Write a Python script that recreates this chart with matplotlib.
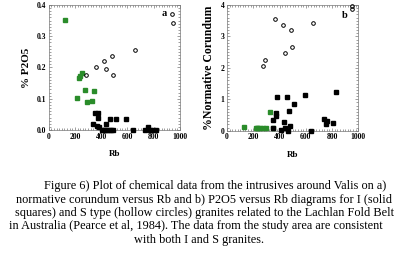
import matplotlib
matplotlib.use("Agg")
import matplotlib.pyplot as plt
from matplotlib.ticker import AutoMinorLocator, MultipleLocator

plt.rcParams['font.family'] = ['Liberation Serif', 'DejaVu Serif']

green = "#2a8c2a"

# panel a: P2O5 vs Rb
a_green_rb = [127, 218, 228, 235, 251, 276, 294, 330, 347]
a_green_p = [0.352, 0.103, 0.167, 0.172, 0.181, 0.129, 0.091, 0.092, 0.124]
a_black_rb = [353, 378, 378, 340, 434, 467, 510, 586, 370, 383,
              403, 418, 432, 446, 460, 474, 488, 640, 733, 759, 775, 797, 817]
a_black_p = [0.055, 0.055, 0.04, 0.019, 0.019, 0.035, 0.035, 0.036, 0.013, 0.009,
             0.0, 0.0, 0.0, 0.0, 0.0, 0.0, 0.0, 0.0, 0.0, 0.011, 0.0, 0.0, 0.0]
a_open_rb = [282, 360, 421, 434, 480, 490, 655, 942, 949]
a_open_p = [0.176, 0.203, 0.222, 0.194, 0.238, 0.176, 0.255, 0.371, 0.343]

# panel b: normative corundum vs Rb
b_green_rb = [127, 218, 228, 235, 251, 276, 294, 330, 347]
b_green_c = [0.12, 0.1, 0.1, 0.1, 0.1, 0.1, 0.1, 0.58, 0.1]
b_black_rb = [383, 455, 594, 510, 375, 373, 470, 353, 434, 480, 348, 409, 442, 465,
              637, 830, 739, 764, 754, 810]
b_black_c = [1.06, 1.06, 1.14, 0.85, 0.57, 0.48, 0.63, 0.35, 0.29, 0.16, 0.10, 0.02, 0.08, 0.0,
             0.0, 1.22, 0.37, 0.32, 0.21, 0.24]
b_open_rb = [366, 429, 485, 657, 442, 497, 289, 276, 950, 953]
b_open_c = [3.55, 3.36, 3.20, 3.42, 2.48, 2.65, 2.25, 2.06, 3.88, 3.97]

caption = [
    "Figure 6) Plot of chemical data from the intrusives around Valis on a)",
    "normative corundum versus Rb and b) P2O5 versus Rb diagrams for I (solid",
    "squares) and S type (hollow circles) granites related to the Lachlan Fold Belt",
    "in Australia (Pearce et al, 1984). The data from the study area are consistent",
    "with both I and S granites.",
]

W, H = 406, 257
fig = plt.figure(figsize=(W / 100, H / 100), dpi=100)


def px_axes(l, t, r, b):
    return fig.add_axes([l / W, 1 - b / H, (r - l) / W, (b - t) / H])


def style(ax, ymax, ymaj, fmt):
    ax.set_xlim(0, 1000)
    ax.set_ylim(0, ymax)
    ax.xaxis.set_major_locator(MultipleLocator(200))
    ax.yaxis.set_major_locator(MultipleLocator(ymaj))
    ax.xaxis.set_minor_locator(AutoMinorLocator(10))
    ax.yaxis.set_minor_locator(AutoMinorLocator(10))
    ax.tick_params(which='both', direction='in', top=True, right=True,
                   width=0.4, color='#555555', labelsize=5.5, pad=2)
    ax.tick_params(which='major', length=2.5)
    ax.tick_params(which='minor', length=1.2)
    for lab in ax.get_xticklabels() + ax.get_yticklabels():
        lab.set_fontweight('bold')
    ax.yaxis.set_major_formatter(plt.FormatStrFormatter(fmt))
    for s in ax.spines.values():
        s.set_linewidth(0.5)
        s.set_color('#777777')
    ax.set_xlabel("Rb", fontsize=6.5, fontweight='bold', labelpad=7)


def scatter(ax, gx, gy, bx, by, ox, oy):
    ax.plot(gx, gy, 's', ms=3.0, color=green, mec=green, ls='none', clip_on=False, zorder=3)
    ax.plot(bx, by, 's', ms=2.3, color='black', ls='none', clip_on=False, zorder=3)
    ax.plot(ox, oy, 'o', ms=2.6, mfc='none', mec='black', mew=0.7, ls='none',
            clip_on=False, zorder=3)


ax1 = px_axes(48.7, 5, 180, 130)
scatter(ax1, a_green_rb, a_green_p, a_black_rb, a_black_p, a_open_rb, a_open_p)
style(ax1, 0.4, 0.1, '%.1f')
ax1.set_ylabel("% P2O5", fontsize=8, fontweight='bold', labelpad=4)
ax1.text(0.88, 0.93, "a", transform=ax1.transAxes, fontsize=7.5, fontweight='bold',
         ha='center', va='center')

ax2 = px_axes(227, 5, 358.3, 130.7)
scatter(ax2, b_green_rb, b_green_c, b_black_rb, b_black_c, b_open_rb, b_open_c)
style(ax2, 4, 1, '%d')
ax2.set_ylabel("%Normative Corundum", fontsize=8.5, fontweight='bold', labelpad=4)
ax2.text(0.90, 0.92, "b", transform=ax2.transAxes, fontsize=7.5, fontweight='bold',
         ha='center', va='center')

centers = [215, 204, 204.5, 196, 199.5]
ys = [186.5, 199.5, 213, 226.5, 240]
for line, cx, cy in zip(caption, centers, ys):
    fig.text(cx / W, 1 - cy / H, line, fontsize=8.8, ha='center', va='center')

fig.savefig("out.png", dpi=100)
